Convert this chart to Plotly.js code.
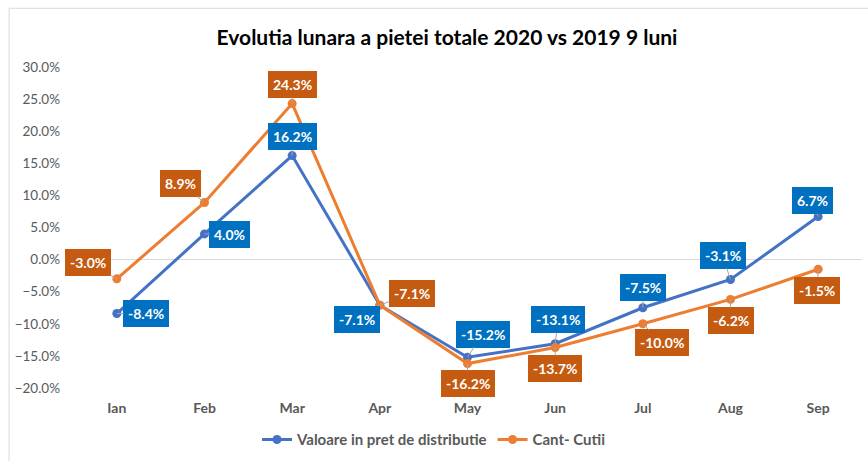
<!DOCTYPE html>
<html>
<head>
<meta charset="utf-8">
<script src="https://cdn.plot.ly/plotly-3.0.1.min.js"></script>
<style>html,body{margin:0;padding:0;background:#fff;}#chart{width:868px;height:461px;}</style>
</head>
<body>
<div id="chart"></div>
<script>
const months = ["Ian","Feb","Mar","Apr","May","Jun","Jul","Aug","Sep"];
const valoare = [-8.4, 4.0, 16.2, -7.1, -15.2, -13.1, -7.5, -3.1, 6.7];
const cant = [-3.0, 8.9, 24.3, -7.1, -16.2, -13.7, -10.0, -6.2, -1.5];
const seriesNames = ["Valoare in pret de distributie", "Cant- Cutii"];
const yTickVals = [-20, -15, -10, -5, 0, 5, 10, 15, 20, 25, 30];

// label placement (pixel offsets from the point)
const offValoare = [[29,0],[25,1],[0,-19],[-23,14],[15,-23],[3,-24],[0,-20],[-8,-24],[-6,-16]];
const offCant = [[-29,-16],[-24,-19],[0,-19],[32,-12],[0,20],[0,21],[19,19],[0,21],[-1,21]];

const lineBlue = "#4472C4", lineOrange = "#ED7D31";
const boxBlue = "#0070C0", boxOrange = "#C55A11";
const font = "Lato, 'Open Sans', sans-serif";

const traces = [
  {x: months, y: valoare.map(v => v/100), name: seriesNames[0], type: "scatter", mode: "lines+markers",
   line: {color: lineBlue, width: 3}, marker: {color: lineBlue, size: 9}},
  {x: months, y: cant.map(v => v/100), name: seriesNames[1], type: "scatter", mode: "lines+markers",
   line: {color: lineOrange, width: 3}, marker: {color: lineOrange, size: 9}}
];

function fmt(v){ return v.toFixed(1) + "%"; }
const annotations = [];
function addLabels(vals, offs, bg){
  vals.forEach((v, i) => {
    annotations.push({
      x: months[i], y: v/100, xref: "x", yref: "y",
      text: "<b>" + fmt(v) + "</b>",
      showarrow: true, arrowhead: 0, arrowwidth: 1, arrowcolor: "#A6A6A6",
      ax: offs[i][0], ay: offs[i][1], standoff: 0,
      bgcolor: bg, borderpad: 4, bordercolor: bg,
      font: {family: font, size: 14, color: "#ffffff"}
    });
  });
}
addLabels(valoare, offValoare, boxBlue);
addLabels(cant, offCant, boxOrange);

const layout = {
  width: 868, height: 461,
  margin: {l: 73, r: 6, t: 67, b: 73, autoexpand: false},
  paper_bgcolor: "#ffffff", plot_bgcolor: "#ffffff",
  title: {text: "<b>Evolutia lunara a pietei totale 2020 vs 2019 9 luni</b>",
          font: {family: font, size: 21, color: "#000000"}, x: 0.515, xanchor: "center", y: 0.918, yanchor: "middle"},
  xaxis: {type: "category", range: [-0.5, 8.5], showgrid: false, zeroline: false, showline: false, ticks: "",
          automargin: false, ticklabelstandoff: 10,
          tickfont: {family: font, size: 14, color: "#595959", weight: "bold"}},
  yaxis: {range: [-0.2, 0.3], tickvals: yTickVals.map(v => v/100), tickformat: ".1%",
          showgrid: false, zeroline: true, zerolinecolor: "#D9D9D9", zerolinewidth: 1,
          automargin: false, showline: false, ticks: "", ticklabelstandoff: 12,
          tickfont: {family: font, size: 13.5, color: "#595959"}},
  showlegend: true,
  legend: {orientation: "h", x: 0.5, xanchor: "center", xref: "container", y: 0.046, yanchor: "middle", yref: "container",
           font: {family: font, size: 15, color: "#595959", weight: "bold"}},
  annotations: annotations,
  shapes: [{type: "rect", xref: "paper", yref: "paper", x0: -0.081, x1: 1.1, y0: -0.3, y1: 1.183,
            line: {color: "#D9D9D9", width: 1}}]
};

Plotly.newPlot("chart", traces, layout, {displayModeBar: false, staticPlot: true});
</script>
</body>
</html>
